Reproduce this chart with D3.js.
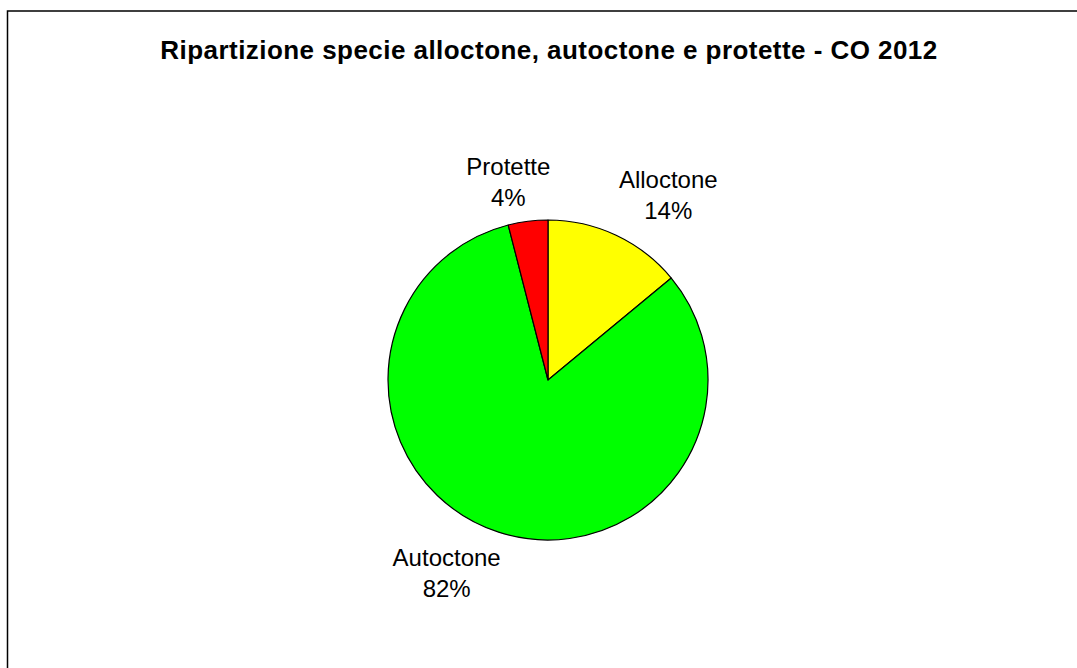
<!DOCTYPE html>
<html>
<head>
<meta charset="utf-8">
<script src="https://cdn.jsdelivr.net/npm/d3@7"></script>
<style>
    html, body { margin: 0; padding: 0; background: #fff; }
    svg { display: block; font-family: Arial, "Liberation Sans", sans-serif; }
</style>
</head>
<body>
<svg id="chart" width="1077" height="668"></svg>
<script>
// data
const categories = ["Alloctone", "Autoctone", "Protette"];
const shares = [14, 82, 4];
const colors = ["#ffff00", "#00ff00", "#ff0000"];
const title = "Ripartizione specie alloctone, autoctone e protette - CO 2012";

// layout
const width = 1077, height = 668;
const cx = 548, cy = 380, radius = 160;
const labelRadius = 205;
// labels were dragged a little in the original, nudge them back
const labelNudge = [[33, 0], [-38, -2], [-14, 5]];

const svg = d3.select("#chart");

// outer frame (runs off the right and bottom edge)
svg.append("rect")
    .attr("x", 7.5)
    .attr("y", 11)
    .attr("width", width + 10)
    .attr("height", height + 10)
    .attr("fill", "none")
    .attr("stroke", "#000")
    .attr("stroke-width", 1.5);

svg.append("text")
    .attr("x", cx + 1)
    .attr("y", 58.5)
    .attr("text-anchor", "middle")
    .attr("font-size", 26)
    .attr("letter-spacing", 0.45)
    .attr("font-weight", "bold")
    .text(title);

const data = categories.map((c, i) => ({ label: c, value: shares[i], color: colors[i] }));

const pie = d3.pie()
    .value(d => d.value)
    .sort(null)
    .startAngle(0)
    .endAngle(2 * Math.PI);

const arcs = pie(data);
const arc = d3.arc().innerRadius(0).outerRadius(radius);
const labelArc = d3.arc().innerRadius(labelRadius).outerRadius(labelRadius);

const g = svg.append("g").attr("transform", `translate(${cx},${cy})`);

g.selectAll("path.slice")
    .data(arcs)
    .join("path")
    .attr("class", "slice")
    .attr("d", arc)
    .attr("fill", d => d.data.color)
    .attr("stroke", "#000")
    .attr("stroke-width", 1.2)
    .attr("stroke-linejoin", "round");

const labels = g.selectAll("text.lbl")
    .data(arcs)
    .join("text")
    .attr("class", "lbl")
    .attr("text-anchor", "middle")
    .attr("font-size", 24)
    .attr("transform", (d, i) => {
        let [x, y] = labelArc.centroid(d);
        return `translate(${x + labelNudge[i][0]},${y + labelNudge[i][1]})`;
    });

labels.append("tspan")
    .attr("x", 0)
    .attr("y", -7)
    .text(d => d.data.label);

labels.append("tspan")
    .attr("x", 0)
    .attr("y", 24)
    .text(d => d.data.value + "%");
</script>
</body>
</html>
